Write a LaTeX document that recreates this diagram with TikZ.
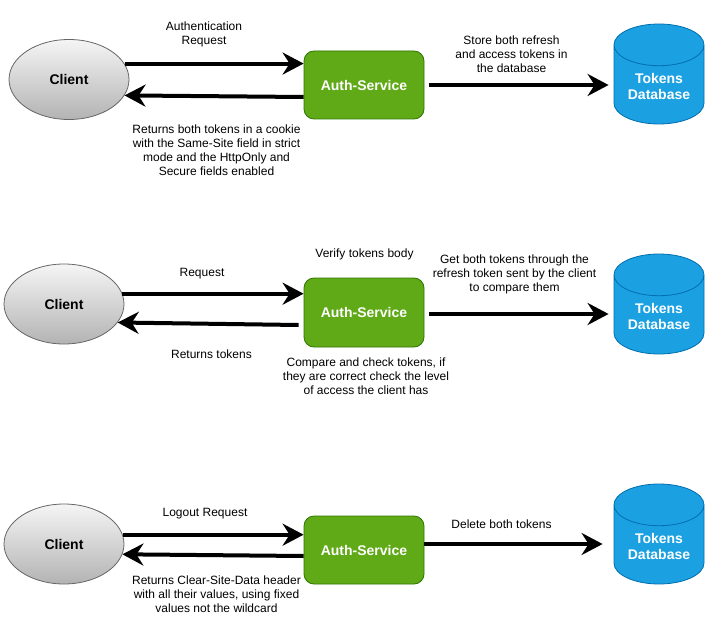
\documentclass[tikz,border=0pt]{standalone}
\usepackage{fontspec}
\setmainfont{Liberation Sans}
\usetikzlibrary{arrows.meta,shapes.geometric}

\definecolor{clientline}{HTML}{666666}
\definecolor{clienttop}{HTML}{F5F5F5}
\definecolor{clientbot}{HTML}{B3B3B3}
\definecolor{authfill}{HTML}{60A917}
\definecolor{authline}{HTML}{2D7600}
\definecolor{dbfill}{HTML}{1BA1E2}
\definecolor{dbline}{HTML}{006EAF}

\begin{document}
\begin{tikzpicture}[x=1pt, y=-1pt,
    client/.style={ellipse, draw=clientline, line width=0.8pt, top color=clienttop, bottom color=clientbot,
        minimum width=120pt, minimum height=80pt, inner sep=0pt, font=\fontsize{14}{16}\selectfont\bfseries},
    authsvc/.style={rectangle, rounded corners=10pt, draw=authline, line width=0.8pt, fill=authfill, text=white,
        minimum width=120pt, minimum height=68pt, inner sep=0pt, font=\fontsize{14}{16}\selectfont\bfseries},
    tokendb/.style={cylinder, shape border rotate=90, aspect=0.67, anchor=shape center, draw=dbline,
        line width=0.8pt, fill=dbfill, text=white, align=center, text height=29pt, text depth=0pt,
        minimum width=90pt, minimum height=100pt, inner sep=0pt, font=\fontsize{14}{16}\selectfont\bfseries},
    flow/.style={line width=4pt, -{Stealth[length=21pt, width=22pt, inset=7pt]}},
    lbl/.style={align=center, inner sep=0pt, yshift=-1.5pt, font=\fontsize{12}{14}\selectfont}]

    \useasboundingbox (0,0) rectangle (711,631);

    % login
    \node[client] (client1) at (69,79.5) {Client};
    \node[authsvc] (auth1) at (364,85) {Auth-Service};
    \node[tokendb] (db1) at (659,74) {Tokens\\Database};

    \draw[flow] (client1.16) -- (client1.16 -| auth1.west);
    \draw[flow] ([yshift=-12pt]auth1.west) -- (client1.-16);
    \draw[flow, shorten <=5pt, shorten >=5pt] (auth1.east) -- (auth1.east -| db1.west);

    \node[lbl] (req1) at (204,32.5) {Authentication\\Request};
    \node[lbl] (ret1) at (216.5,149) {Returns both tokens in a cookie\\with the Same-Site field in strict\\mode and the HttpOnly and\\Secure fields enabled};
    \node[lbl] (store1) at (511.5,53) {Store both refresh\\and access tokens in\\the database};

    % check
    \node[client] (client2) at (64,304) {Client};
    \node[authsvc, minimum height=69pt] (auth2) at (364,312.5) {Auth-Service};
    \node[tokendb] (db2) at (659,304) {Tokens\\Database};

    \draw[flow] (client2.10) -- (client2.10 -| auth2.west);
    \draw[flow] ([xshift=-5pt, yshift=-12.5pt]auth2.west) -- (client2.-19);
    \draw[flow, shorten <=5pt, shorten >=5pt] ([yshift=-1.5pt]auth2.east) -- ([yshift=-1.5pt]auth2.east -| db2.west);

    \node[lbl] (req2) at (202,272.5) {Request};
    \node[lbl] (ret2) at (211.5,352.5) {Returns tokens};
    \node[lbl] (verify2) at (364.5,252.5) {Verify tokens body};
    \node[lbl] (cmp2) at (366,375) {Compare and check tokens, if\\they are correct check the level\\of access the client has};
    \node[lbl] (get2) at (514.5,273) {Get both tokens through the\\refresh token sent by the client\\to compare them};

    % logout
    \node[client] (client3) at (64,544) {Client};
    \node[authsvc] (auth3) at (364,550) {Auth-Service};
    \node[tokendb] (db3) at (659,534) {Tokens\\Database};

    \draw[flow] (client3.9) -- (client3.9 -| auth3.west);
    \draw[flow] ([yshift=-6pt]auth3.west) -- (client3.-10);
    \draw[flow, shorten >=11pt] ([yshift=6pt]auth3.east) -- ([yshift=6pt]auth3.east -| db3.west);

    \node[lbl] (req3) at (205,512.5) {Logout Request};
    \node[lbl] (ret3) at (216.5,593) {Returns Clear-Site-Data header\\with all their values, using fixed\\values not the wildcard};
    \node[lbl] (del3) at (501.5,522.5) {Delete both tokens};

\end{tikzpicture}
\end{document}
